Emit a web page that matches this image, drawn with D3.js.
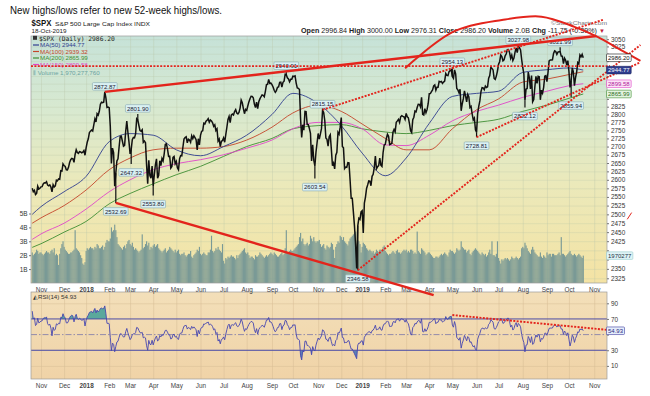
<!DOCTYPE html>
<html><head><meta charset="utf-8">
<script src="https://cdn.jsdelivr.net/npm/d3@7"></script>
<style>body{margin:0;background:#fff;}svg{display:block;font-family:"Liberation Sans",Arial,sans-serif;}</style>
</head><body><svg id="c" width="650" height="396"></svg>
<script>
// ---------------- DATA ----------------
const holidays = ["2017-11-23","2017-12-25","2018-01-01","2018-01-15","2018-02-19","2018-03-30","2018-05-28","2018-07-04","2018-09-03","2018-11-22","2018-12-05","2018-12-25","2019-01-01","2019-01-21","2019-02-18","2019-04-19","2019-05-27","2019-07-04","2019-09-02","2019-11-28","2019-12-25","2020-01-01"];
// closes before the chart window (Sep 1 - Oct 19 2017), used only to seed RSI(14)
const warmupCloses = [2476.55,2457.85,2465.54,2465.10,2461.43,2488.11,2496.48,2498.37,2495.62,2500.23,2503.87,2506.65,2508.24,2500.60,2502.22,2496.66,2496.84,2507.04,2510.06,2519.36,
2529.12,2534.58,2537.74,2552.07,2549.33,2544.73,2550.64,2555.24,2550.93,2553.17,2557.64,2559.36,2561.26,2562.10];
const closes2017 = [2575.21,2564.98,2569.13,2557.15,2560.40,2581.07,2572.83,2575.26,
2579.36,2579.85,2587.84,2591.13,2590.64,2594.38,2584.62,2582.30,2584.84,2578.87,2564.62,2585.64,2578.85,2582.14,2599.03,2597.08,2602.42,2601.42,2627.04,2626.07,2647.58,
2642.22,2639.44,2629.57,2629.27,2636.98,2651.50,2659.99,2664.11,2662.85,2652.01,2675.81,2690.16,2681.47,2679.25,2684.57,2683.34,2680.50,2682.62,2687.54,2673.61];
const closes2018 = [2695.81,2713.06,2723.99,2743.15,2747.71,2751.29,2748.23,2767.56,2786.24,2776.42,2802.56,2798.03,2810.30,2832.97,2839.13,2837.54,2839.25,2872.87,2853.53,2822.43,2823.81,
2821.98,2762.13,2648.94,2695.14,2681.66,2581.00,2619.55,2656.00,2662.94,2698.63,2731.20,2732.22,2716.26,2701.33,2703.96,2747.30,2779.60,2744.28,2713.83,
2677.67,2691.25,2720.94,2728.12,2726.80,2738.97,2786.57,2783.02,2765.31,2749.48,2747.33,2752.01,2712.92,2716.94,2711.93,2643.69,2588.26,2658.55,2612.62,2605.00,2640.87,
2581.88,2614.45,2644.69,2662.84,2604.47,2613.16,2656.87,2642.19,2663.99,2656.30,2677.84,2706.39,2708.64,2693.13,2670.14,2670.29,2634.56,2639.40,2666.94,2669.91,2648.05,
2654.80,2635.67,2629.73,2663.42,2672.63,2671.92,2697.79,2723.07,2727.72,2730.13,2711.45,2722.46,2720.13,2712.97,2733.01,2724.44,2733.29,2727.76,2721.33,2689.86,2724.01,2705.27,
2734.62,2746.87,2748.80,2772.35,2770.37,2779.03,2782.00,2786.85,2775.63,2782.49,2779.66,2773.75,2762.59,2767.32,2749.76,2754.88,2717.07,2723.06,2699.63,2716.31,2718.37,
2726.71,2713.22,2736.61,2759.82,2784.17,2793.84,2774.02,2798.29,2801.31,2798.43,2809.55,2815.62,2804.49,2801.83,2806.98,2820.40,2846.07,2837.44,2818.82,2802.60,2816.29,
2813.36,2827.22,2840.35,2850.40,2858.45,2857.70,2853.58,2833.28,2821.93,2839.96,2818.37,2840.69,2850.13,2857.05,2862.96,2861.82,2856.98,2874.69,2896.74,2897.52,2914.04,2900.93,2901.52,
2896.72,2888.60,2878.05,2871.68,2877.13,2887.89,2888.92,2904.18,2904.98,2888.80,2904.31,2907.95,2930.75,2929.67,2919.37,2915.56,2905.97,2914.00,2913.98,
2924.59,2923.43,2925.51,2901.61,2885.57,2884.43,2880.34,2785.68,2728.37,2767.13,2750.79,2809.92,2809.21,2768.78,2767.78,2755.88,2740.69,2656.10,2705.57,2658.69,2641.25,2682.63,2711.74,
2740.37,2723.06,2738.31,2755.45,2813.89,2806.83,2781.01,2726.22,2722.18,2701.58,2730.20,2736.27,2690.73,2641.89,2649.93,2632.56,2673.45,2682.17,2743.79,2737.76,2760.17,
2790.37,2700.06,2695.95,2633.08,2637.72,2636.78,2651.07,2650.54,2599.95,2545.94,2546.16,2506.96,2467.42,2416.62,2351.10,2467.70,2488.83,2485.74,2506.85];
const closes2019 = [2510.03,2447.89,2531.94,2549.69,2574.41,2584.96,2596.64,2596.26,2582.61,2610.30,2616.10,2635.96,2670.71,2632.90,2638.70,2642.33,2664.76,2643.85,2640.00,2681.05,2704.10,
2706.53,2724.87,2737.70,2731.61,2706.05,2707.88,2709.80,2744.73,2753.03,2745.73,2775.60,2779.76,2784.70,2774.88,2792.67,2796.11,2793.90,2792.38,2784.49,
2803.69,2792.81,2789.65,2771.45,2748.93,2743.07,2783.30,2791.52,2810.92,2808.48,2822.48,2832.94,2832.57,2824.23,2854.88,2800.71,2798.36,2818.46,2805.37,2815.44,2834.40,
2867.19,2867.24,2873.40,2879.39,2892.74,2895.77,2878.20,2888.21,2888.32,2907.41,2905.58,2907.06,2900.45,2905.03,2907.97,2933.68,2927.25,2926.17,2939.88,2943.03,2945.83,
2923.73,2917.52,2945.64,2932.47,2884.05,2879.42,2870.72,2881.40,2811.87,2834.41,2850.96,2876.32,2859.53,2840.23,2864.36,2856.27,2822.24,2826.06,2802.39,2783.02,2788.86,2752.06,
2744.45,2803.27,2826.15,2843.49,2873.34,2886.73,2885.72,2879.84,2891.64,2886.98,2889.67,2917.75,2926.46,2954.18,2950.46,2945.35,2917.38,2913.78,2924.92,2941.76,
2964.33,2973.01,2995.82,2990.41,2975.95,2979.63,2993.07,2999.91,3013.77,3014.30,3004.04,2984.42,2995.11,2976.61,2985.03,3005.47,3019.56,3003.67,3025.86,3020.97,3013.18,2980.38,
2953.56,2932.05,2844.74,2881.77,2883.98,2938.09,2918.65,2882.70,2926.32,2840.60,2847.60,2888.68,2923.65,2900.51,2924.43,2922.95,2847.11,2878.38,2869.16,2887.94,2924.58,2926.46,
2906.27,2937.78,2976.00,2978.71,2978.43,2979.39,3000.93,3009.57,3007.39,2997.96,3005.70,3006.73,3006.79,2992.07,2991.78,2966.60,2984.87,2977.62,2961.79,2976.74,
2940.25,2887.61,2910.63,2952.01,2938.79,2893.06,2919.40,2938.13,2970.27,2966.15,2995.68,2989.69,2997.95,2986.20];
// daily volume, billions of shares
const volumes2017 = [2.2,2.0,2.1,2.2,2.4,2.3,2.1,2.2,
2.2,2.1,2.0,2.1,2.2,2.3,2.2,2.2,2.1,2.3,2.4,2.2,2.5,2.0,2.1,2.0,1.3,2.1,2.5,2.8,3.0,
2.6,2.4,2.3,2.2,2.1,2.1,2.2,2.2,2.3,2.4,3.8,2.5,2.4,2.3,2.2,2.0,1.8,1.4,1.3,1.5];
const volumes2018 = [2.3,2.5,2.4,2.5,2.6,2.5,2.5,2.4,2.6,2.5,2.8,2.7,2.5,2.5,2.6,2.7,2.4,2.6,2.9,3.1,3.0,
3.0,3.2,4.0,3.7,3.8,4.2,3.8,3.3,2.8,2.7,2.6,2.5,2.4,2.6,2.7,2.5,2.8,3.0,3.1,
2.8,2.7,2.9,2.6,2.4,2.5,2.4,2.3,2.2,2.3,2.4,3.5,2.5,2.6,2.8,3.0,2.7,2.9,2.4,2.6,2.5,
2.7,2.8,2.6,2.7,2.8,2.5,2.4,2.3,2.2,2.3,2.4,2.5,2.2,2.3,2.4,2.6,2.5,2.4,2.3,2.2,2.4,
2.2,2.3,2.4,2.1,2.0,2.1,2.1,2.2,2.0,1.9,2.0,2.1,2.1,2.3,1.9,1.8,2.0,2.1,2.2,2.4,2.3,2.6,
2.1,2.0,2.1,2.2,2.1,2.0,2.0,2.2,2.2,2.4,3.4,2.3,2.2,2.3,2.5,2.4,2.6,2.4,2.3,2.2,2.8,
1.6,1.4,1.8,1.7,1.9,1.8,1.9,2.0,1.9,1.9,1.8,1.7,2.0,1.8,2.0,2.1,2.2,2.3,2.4,2.5,2.2,
2.1,2.2,2.0,1.8,1.9,1.9,1.8,1.7,2.0,1.9,1.9,2.0,2.2,2.1,2.0,1.9,1.8,1.9,2.0,1.9,2.0,2.1,2.2,
2.1,2.0,2.2,2.1,2.0,1.9,1.9,2.0,2.1,2.2,2.0,2.1,2.5,3.8,2.2,2.1,2.3,2.4,2.3,
2.3,2.4,2.5,2.6,2.7,2.8,3.3,3.6,3.0,3.2,2.8,2.7,2.8,2.9,2.7,2.8,3.4,3.2,3.0,3.3,3.0,2.9,3.0,
3.0,3.1,2.8,2.6,2.7,2.8,2.5,2.4,2.7,2.6,2.5,2.6,2.9,2.8,2.4,1.8,2.6,2.8,3.0,2.9,3.4,
3.3,3.1,3.3,3.0,2.9,2.8,2.7,3.0,3.2,3.3,3.4,3.5,3.6,3.7,2.2,3.1,3.0,2.8,2.2];
const volumes2019 = [2.6,2.9,2.8,2.7,2.5,2.4,2.3,2.4,2.3,2.2,2.3,2.1,2.2,2.4,2.3,2.2,2.4,2.4,2.3,2.6,2.7,
2.3,2.2,2.1,2.0,2.1,2.1,2.2,2.3,2.2,2.1,2.3,2.4,2.2,2.2,2.1,2.2,2.3,2.4,2.3,
2.4,2.2,2.3,2.2,2.4,2.4,2.3,2.1,2.2,2.1,3.7,2.3,2.2,2.1,2.5,2.4,2.3,2.2,2.0,2.1,2.2,
2.2,2.1,2.0,1.9,1.8,1.8,1.9,1.9,1.8,1.9,2.0,2.1,2.0,2.1,2.2,2.1,2.0,1.9,2.2,2.4,2.3,
2.3,2.2,2.1,2.2,2.5,2.4,2.3,2.4,3.0,2.6,2.5,2.4,2.4,2.2,2.3,2.4,2.1,2.0,2.2,2.3,2.4,2.5,
2.4,2.3,2.2,2.1,2.0,2.2,2.1,2.0,2.1,1.9,2.0,2.2,2.4,2.1,3.0,2.0,2.0,1.9,2.1,3.0,
1.8,1.6,1.4,1.7,1.6,1.7,1.8,1.7,1.8,1.7,1.6,1.7,1.9,1.8,1.7,1.8,1.9,1.8,1.7,1.8,1.9,2.5,
2.6,2.5,2.9,2.7,2.5,2.3,2.2,2.1,2.4,2.6,2.4,2.2,2.1,2.0,1.9,1.9,2.2,1.9,1.8,2.0,1.9,1.8,
2.2,2.0,2.1,2.1,1.9,2.1,2.1,2.0,2.0,2.0,2.1,2.2,2.0,3.3,2.1,2.1,2.0,1.9,2.0,2.1,
2.2,2.3,2.1,2.0,2.0,2.1,2.0,1.9,2.0,2.1,2.0,1.9,1.8,1.97];
// moving averages
const maDates = ["2017-10-20","2017-11-01","2017-12-01","2018-01-02","2018-02-01","2018-03-01","2018-04-02","2018-05-01","2018-06-01","2018-07-02","2018-08-01","2018-09-04","2018-10-01","2018-11-01","2018-12-03","2019-01-02","2019-02-01","2019-03-01","2019-04-01","2019-05-01","2019-06-03","2019-07-01","2019-08-01","2019-09-03","2019-10-01","2019-10-18"];
const ma50  = [2500,2522,2565,2610,2715,2740,2735,2690,2672,2700,2735,2800,2868,2835,2765,2680,2612,2665,2772,2858,2868,2875,2937,2946,2952,2944.77];
const ma100 = [2475,2490,2525,2570,2630,2665,2690,2695,2695,2700,2720,2760,2805,2830,2810,2770,2725,2690,2690,2755,2815,2850,2905,2915,2930,2939.32];
const ma150 = [2430,2445,2475,2515,2565,2600,2630,2648,2660,2675,2695,2720,2755,2775,2775,2755,2705,2703,2735,2780,2810,2830,2855,2875,2893,2899.58];
const ma200 = [2408,2418,2450,2480,2530,2560,2588,2615,2640,2670,2700,2725,2755,2765,2768,2755,2745,2740,2750,2765,2775,2785,2810,2830,2852,2865.99];
// labelled highs and lows
const extremeDates  = ["2018-01-26","2018-03-12","2018-09-21","2018-11-07","2019-05-01","2019-07-26","2019-09-19","2018-02-09","2018-03-02","2018-04-02","2018-10-29","2018-12-26","2019-06-03","2019-08-05","2019-10-03"];
const extremeValues = [2872.87,2801.90,2940.91,2815.15,2954.13,3027.98,3021.99,2532.69,2647.32,2553.80,2603.54,2346.58,2728.81,2822.12,2855.94];
const extremeKinds  = ["H","H","H","H","H","H","H","L","L","L","L","L","L","L","L"];
// hand-drawn trend lines (date, value)
const trendTopSolid = [["2018-01-26",2872.87],["2019-11-05",3061]];
const trendBottomSolid = [["2018-02-09",2532.69],["2019-04-05",2281]];
const arcDates = ["2019-02-28","2019-05-02","2019-07-05","2019-08-26","2019-10-08","2019-11-06","2019-12-06","2020-01-03"];
const arcValues = [2951,3076,3117,3129,3093,3058,3013,2976];
const dottedLevel = 2958;
const dottedA = [["2018-11-07",2815.15],["2019-11-14",3119]];
const dottedB = [["2018-12-26",2346.58],["2020-01-03",3030]];
const dottedC = [["2019-06-03",2728.81],["2020-01-03",2971]];
const redTick = [["2019-12-16",2486],["2019-12-20",2505]];
const rsiTrend = [["2019-05-01",75],["2019-11-19",56]];
// axes
const monthStarts = ["2017-11","2017-12","2018-01","2018-02","2018-03","2018-04","2018-05","2018-06","2018-07","2018-08","2018-09","2018-10","2018-11","2018-12","2019-01","2019-02","2019-03","2019-04","2019-05","2019-06","2019-07","2019-08","2019-09","2019-10","2019-11"];
const monthLabels = ["Nov","Dec","2018","Feb","Mar","Apr","May","Jun","Jul","Aug","Sep","Oct","Nov","Dec","2019","Feb","Mar","Apr","May","Jun","Jul","Aug","Sep","Oct","Nov"];
const priceTicks = [2325,2350,2375,2400,2425,2450,2475,2500,2525,2550,2575,2600,2625,2650,2675,2700,2725,2750,2775,2800,2825,2850,2875,2900,2925,2950,2975,3000,3025,3050];
const volumeTicks = [1,2,3,4,5];
const volumeTickLabels = ["1B","2B","3B","4B","5B"];
const rsiTicks = [10,30,50,70,90];
const lastValues = {close:2986.20, ma50:2944.77, ma100:2939.32, ma200:2865.99, ma150:2899.58, volume:1970277760, rsi:54.93};

// ---------------- CALENDAR ----------------
function buildCalendar(s, e, hol){
  const hs = new Set(hol), out = [];
  let d = new Date(s+"T12:00:00Z"); const end = new Date(e+"T12:00:00Z");
  while(d <= end){ const wd = d.getUTCDay(), k = d.toISOString().slice(0,10);
    if(wd!==0 && wd!==6 && !hs.has(k)) out.push(k);
    d = new Date(d.getTime()+86400000); }
  return out;
}
const cal = buildCalendar("2017-10-20","2020-01-15",holidays);
const idx = new Map(cal.map((d,i)=>[d,i]));
const I = d => idx.get(d);
const closes = closes2017.concat(closes2018, closes2019);
const volumes = volumes2017.concat(volumes2018, volumes2019);

// RSI(14), Wilder
const allC = warmupCloses.concat(closes);
let ag=0, al=0; const rsiAll = new Array(allC.length).fill(null);
for(let i=1;i<allC.length;i++){
  const ch = allC[i]-allC[i-1], g = Math.max(ch,0), l = Math.max(-ch,0);
  if(i<=14){ ag+=g/14; al+=l/14; if(i===14) rsiAll[i]=100-100/(1+ag/al); }
  else { ag=(ag*13+g)/14; al=(al*13+l)/14; rsiAll[i]=100-100/(1+ag/al); }
}
const rsi = closes.map((c,i)=>rsiAll[i+warmupCloses.length]);

// ---------------- LAYOUT ----------------
const L=31, R=607, T=36, B=283, RT=292, RB=379;
const svg = d3.select("#c");
const x = d3.scaleLinear().domain([-1.1,522.6]).range([L,R]);
const y = d3.scaleLog().domain([2312.6,3061]).range([B,T]);
const yv = d3.scaleLinear().domain([0,5]).range([B,213.5]);
const yr = d3.scaleLinear().domain([10,90]).range([365.9,303.3]);

const defs = svg.append("defs");
const g1 = defs.append("linearGradient").attr("id","mg").attr("x1",0).attr("y1",0).attr("x2",0).attr("y2",1);
[[0,"#c6e2d8"],[0.3,"#d8e9d0"],[0.6,"#ebe9ba"],[1,"#f4e3a4"]].forEach(s=>g1.append("stop").attr("offset",s[0]).attr("stop-color",s[1]));
const g2 = defs.append("linearGradient").attr("id","rg").attr("x1",0).attr("y1",0).attr("x2",0).attr("y2",1);
[[0,"#f3dfb9"],[1,"#f0d3a7"]].forEach(s=>g2.append("stop").attr("offset",s[0]).attr("stop-color",s[1]));
defs.append("clipPath").attr("id","cm").append("rect").attr("x",L).attr("y",T).attr("width",R-L).attr("height",B-T);
defs.append("clipPath").attr("id","cr").append("rect").attr("x",L).attr("y",RT).attr("width",R-L).attr("height",RB-RT);
defs.append("clipPath").attr("id","cob").append("rect").attr("x",L).attr("y",RT).attr("width",R-L).attr("height",yr(70)-RT);
defs.append("clipPath").attr("id","cos").append("rect").attr("x",L).attr("y",yr(30)).attr("width",R-L).attr("height",RB-yr(30));

svg.append("rect").attr("x",L).attr("y",T).attr("width",R-L).attr("height",B-T).attr("fill","url(#mg)");
svg.append("rect").attr("x",L).attr("y",RT).attr("width",R-L).attr("height",RB-RT).attr("fill","url(#rg)");

// grid
const monthIdx = monthStarts.map(m=>cal.findIndex(d=>d.startsWith(m)));
const gridM = svg.append("g").attr("clip-path","url(#cm)");
gridM.append("g").attr("transform",`translate(0,${B})`)
  .call(d3.axisBottom(x).tickValues(monthIdx).tickSize(-(B-T)).tickFormat(""))
  .call(g=>{g.select(".domain").remove(); g.selectAll("line").attr("stroke","#b9c7a8").attr("stroke-width",0.5).attr("stroke-opacity",0.7);});
gridM.append("g").attr("transform",`translate(${L},0)`)
  .call(d3.axisRight(y).tickValues(priceTicks).tickSize(R-L).tickFormat(""))
  .call(g=>{g.select(".domain").remove(); g.selectAll("line").attr("stroke","#b9c7a8").attr("stroke-width",0.5).attr("stroke-opacity",0.6);});
const gridR = svg.append("g");
gridR.append("g").attr("transform",`translate(0,${RB})`)
  .call(d3.axisBottom(x).tickValues(monthIdx).tickSize(-(RB-RT)).tickFormat(""))
  .call(g=>{g.select(".domain").remove(); g.selectAll("line").attr("stroke","#d7bd94").attr("stroke-width",0.5);});
gridR.append("g").attr("transform",`translate(${L},0)`)
  .call(d3.axisRight(yr).tickValues([10,90]).tickSize(R-L).tickFormat(""))
  .call(g=>{g.select(".domain").remove(); g.selectAll("line").attr("stroke","#d7bd94").attr("stroke-width",0.5);});

// volume bars
svg.append("g").attr("clip-path","url(#cm)").selectAll("rect").data(volumes).join("rect")
  .attr("x",(d,i)=>x(i)-0.55).attr("width",1.15).attr("y",d=>yv(d)).attr("height",d=>B-yv(d))
  .attr("fill","#7a9a96");

// moving averages
const maLine = d3.line().x(d=>x(I(d[0]))).y(d=>y(d[1])).curve(d3.curveMonotoneX);
const mg = svg.append("g").attr("clip-path","url(#cm)").attr("fill","none");
[[ma200,"#3f8f33"],[ma150,"#e046c8"],[ma100,"#c4452a"],[ma50,"#2f3d8f"]].forEach(([arr,col])=>{
  mg.append("path").attr("d",maLine(maDates.map((d,i)=>[d,arr[i]]))).attr("stroke",col).attr("stroke-width",0.9);
});

// price
const pg = svg.append("g").attr("clip-path","url(#cm)");
pg.append("path").attr("d",d3.line().x((d,i)=>x(i)).y(d=>y(d))(closes)).attr("fill","none").attr("stroke","#111").attr("stroke-width",1.5).attr("stroke-linejoin","miter");
extremeDates.forEach((d,k)=>{
  const i=I(d);
  pg.append("line").attr("x1",x(i)).attr("x2",x(i)).attr("y1",y(closes[i])).attr("y2",y(extremeValues[k])).attr("stroke","#111").attr("stroke-width",1.2);
});

// tag helper
function tag(cx, cy, txt, o){
  o = Object.assign({fill:"#d9f0f3",stroke:"#88aab0",color:"#223",fs:6,anchor:"middle",pad:1.5,h:7.6},o||{});
  const g = svg.append("g");
  const r = g.append("rect");
  const t = g.append("text").attr("font-size",o.fs).attr("fill",o.color).attr("y",cy+o.fs*0.36).text(txt);
  const w = t.node().getComputedTextLength();
  let x0 = o.anchor==="middle" ? cx-w/2 : cx;
  t.attr("x",x0);
  r.attr("x",x0-o.pad).attr("y",cy-o.h/2).attr("width",w+2*o.pad).attr("height",o.h).attr("rx",1)
   .attr("fill",o.fill).attr("stroke",o.stroke).attr("stroke-width",0.6);
  return g;
}

// RSI
const rg = svg.append("g");
const rsiPts = rsi.map((v,i)=>[i,v]).filter(d=>d[1]!=null);
const rsiArea = (lvl)=>d3.area().x(d=>x(d[0])).y0(yr(lvl)).y1(d=>yr(d[1]));
rg.append("path").attr("clip-path","url(#cob)").attr("d",rsiArea(70)(rsiPts)).attr("fill","#5aa89c");
rg.append("path").attr("clip-path","url(#cos)").attr("d",rsiArea(30)(rsiPts)).attr("fill","#5b82b5");
[70,30].forEach(v=>rg.append("line").attr("x1",L).attr("x2",R).attr("y1",yr(v)).attr("y2",yr(v)).attr("stroke","#4b4ba6").attr("stroke-width",1));
rg.append("line").attr("x1",L).attr("x2",R).attr("y1",yr(50)).attr("y2",yr(50)).attr("stroke","#6a68a8").attr("stroke-width",0.7).attr("stroke-dasharray","6,2,1.5,2");
rg.append("path").attr("clip-path","url(#cr)").attr("d",d3.line().x(d=>x(d[0])).y(d=>yr(d[1]))(rsiPts)).attr("fill","none").attr("stroke","#4646b0").attr("stroke-width",0.9);

// panel borders
svg.append("rect").attr("x",L).attr("y",T).attr("width",R-L).attr("height",B-T).attr("fill","none").attr("stroke","#9a9a9a").attr("stroke-width",0.7);
svg.append("rect").attr("x",L).attr("y",RT).attr("width",R-L).attr("height",RB-RT).attr("fill","none").attr("stroke","#9a9a9a").attr("stroke-width",0.7);

// right-side value tags (positions used to hide covered tick labels)
const priceTagYs = [y(lastValues.close), y(lastValues.ma50), y(lastValues.ma150), y(lastValues.ma200), yv(lastValues.volume/1e9)];
const rsiTagYs = [yr(lastValues.rsi)];
function hideCovered(ys, sc){ return g=>g.selectAll(".tick").filter(d=>ys.some(t=>Math.abs(sc(d)-t)<6.5)).select("text").remove(); }

// axes
function styleAxis(g){ g.select(".domain").remove(); g.selectAll("text").attr("font-size",6.4).attr("fill","#333"); g.selectAll("line").attr("stroke","#777"); }
svg.append("g").attr("transform",`translate(${R},0)`).call(d3.axisRight(y).tickValues(priceTicks).tickSize(2).tickPadding(2).tickFormat(d3.format("d"))).call(styleAxis).call(hideCovered(priceTagYs,y));
svg.append("g").attr("transform",`translate(${L},0)`).call(d3.axisLeft(yv).tickValues(volumeTicks).tickSize(2).tickPadding(1.5).tickFormat((d,i)=>volumeTickLabels[i])).call(styleAxis);
svg.append("g").attr("transform",`translate(${R},0)`).call(d3.axisRight(yr).tickValues(rsiTicks).tickSize(2).tickPadding(2)).call(styleAxis).call(hideCovered(rsiTagYs,yr));
[B,RB].forEach(yy=>{
  svg.append("g").attr("transform",`translate(0,${yy})`).call(d3.axisBottom(x).tickValues(monthIdx).tickSize(0).tickPadding(4.5).tickFormat((d,i)=>monthLabels[i]))
   .call(styleAxis).call(g=>g.selectAll("text").attr("font-weight",(d,i)=>/^20/.test(monthLabels[i])?"bold":"normal").attr("fill","#444"));
});

// legend & header
svg.append("text").attr("x",10).attr("y",13.5).attr("font-size",11.5).attr("fill","#111").attr("textLength",212).attr("lengthAdjust","spacingAndGlyphs").text("New highs/lows refer to new 52-week highs/lows.");
svg.append("text").attr("x",31.5).attr("y",26).attr("font-size",8.6).attr("font-weight","bold").attr("fill","#111").attr("textLength",20).attr("lengthAdjust","spacingAndGlyphs").text("$SPX");
svg.append("text").attr("x",55).attr("y",25.5).attr("font-size",6.2).attr("fill","#222").attr("textLength",95).attr("lengthAdjust","spacingAndGlyphs").text("S&P 500 Large Cap Index  INDX");
svg.append("text").attr("x",31.5).attr("y",33).attr("font-size",6).attr("fill","#222").attr("textLength",35).attr("lengthAdjust","spacingAndGlyphs").text("18-Oct-2019");
svg.append("text").attr("x",551).attr("y",25).attr("font-size",5.8).attr("fill","#777").attr("textLength",56).attr("lengthAdjust","spacingAndGlyphs").text("©StockCharts.com");
const hdr = svg.append("text").attr("x",301).attr("y",33).attr("font-size",6.6).attr("fill","#222").attr("textLength",296).attr("lengthAdjust","spacingAndGlyphs");
[["Open ",1],["2996.84 ",0],["High ",1],["3000.00 ",0],["Low ",1],["2976.31 ",0],["Close ",1],["2986.20 ",0],["Volume ",1],["2.0B ",0],["Chg ",1],["-11.75 (-0.39%)",0]]
  .forEach(([s,b])=>hdr.append("tspan").attr("font-weight",b?"bold":"normal").text(s));
svg.append("text").attr("x",599).attr("y",33).attr("font-size",6).attr("fill","#c0203a").text("▼");

const lg = svg.append("g").attr("font-size",6.2);
lg.append("rect").attr("x",33).attr("y",35.8).attr("width",4).attr("height",4).attr("fill","#333");
lg.append("text").attr("x",39).attr("y",40.5).attr("font-family","DejaVu Sans Mono").attr("font-size",6.3).attr("fill","#222").text("$SPX (Daily) 2986.20");
[["MA(50) 2944.77","#2f3d8f",47],["MA(100) 2939.32","#c4452a",53.5],["MA(200) 2865.99","#3f8f33",60],["MA(150) 2899.58","#e046c8",66.5]].forEach(([t,c,yy])=>{
  lg.append("line").attr("x1",33).attr("x2",39).attr("y1",yy-2).attr("y2",yy-2).attr("stroke",c).attr("stroke-width",1.2);
  lg.append("text").attr("x",40).attr("y",yy).attr("fill",c).text(t);
});
lg.append("text").attr("x",33).attr("y",74.5).attr("fill","#6aa3a0").text("⫴ Volume 1,970,277,760");
svg.append("text").attr("x",33).attr("y",299).attr("font-size",6.2).attr("fill","#333").text("◭RSI(14) 54.93");

// price tags
extremeDates.forEach((d,k)=>{
  const v=extremeValues[k], hi=extremeKinds[k]==="H";
  tag(x(I(d)), y(v)+(hi?-5.5:8.5), d3.format(".2f")(v));
});

// red annotations
const dl = d3.line().x(d=>x(I(d[0]))).y(d=>y(d[1]));
const ann = svg.append("g").attr("fill","none");
const dot = p=>p.attr("stroke","#e3241c").attr("stroke-width",1.9).attr("stroke-dasharray","2,1.4");
ann.append("line").attr("x1",L).attr("x2",R+3).attr("y1",y(dottedLevel)).attr("y2",y(dottedLevel)).call(dot);
ann.append("path").attr("d",dl(dottedA)).call(dot);
ann.append("path").attr("d",dl(dottedB)).call(dot);
ann.append("path").attr("d",dl(dottedC)).call(dot);
ann.append("path").attr("d",dl(trendTopSolid)).attr("stroke","#e3241c").attr("stroke-width",2.4);
ann.append("path").attr("d",dl(trendBottomSolid)).attr("stroke","#e3241c").attr("stroke-width",2.4);
ann.append("path").attr("d",d3.line().x(d=>x(I(d[0]))).y(d=>y(d[1])).curve(d3.curveCatmullRom)(arcDates.map((d,i)=>[d,arcValues[i]]))).attr("stroke","#e3241c").attr("stroke-width",2);
ann.append("path").attr("d",dl(redTick)).attr("stroke","#e3241c").attr("stroke-width",1);
ann.append("path").attr("d",d3.line().x(d=>x(I(d[0]))).y(d=>yr(d[1]))(rsiTrend)).call(dot);

// last-value tags on right axis
tag(R+1, y(lastValues.close), "2986.20", {anchor:"start",fill:"#fff",stroke:"#111",color:"#111"});
tag(R+1, y(lastValues.ma50), "2944.77", {anchor:"start",fill:"#2f3d8f",stroke:"#1c2560",color:"#fff"});
tag(R+1, y(lastValues.ma150), "2899.58", {anchor:"start",fill:"#fbe2f6",stroke:"#e046c8",color:"#b0209a"});
tag(R+1, y(lastValues.ma200), "2865.99", {anchor:"start",fill:"#e3f4df",stroke:"#3f8f33",color:"#2d6d23"});
tag(R+1, yv(lastValues.volume/1e9), "1970277", {anchor:"start",fill:"#dff3f6",stroke:"#9cc",color:"#234"});
tag(R+1, yr(lastValues.rsi), "54.93", {anchor:"start",fill:"#e4ecfa",stroke:"#3a3aa0",color:"#2a2a80"});
</script></body></html>
